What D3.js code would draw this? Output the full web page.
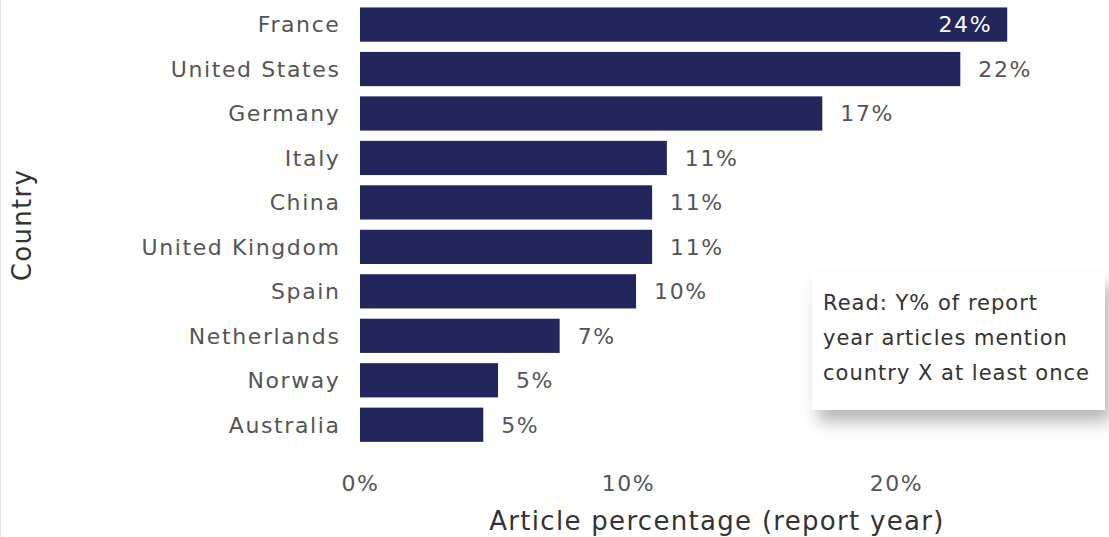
<!DOCTYPE html>
<html><head><meta charset="utf-8">
<script src="https://cdn.jsdelivr.net/npm/d3@7"></script>
<style>
body{margin:0;background:#fff;}
svg{display:block;font-family:"DejaVu Sans",Verdana,sans-serif;}
</style></head><body>
<svg id="c" width="1109" height="537"></svg>
<script>
const countries = ["France","United States","Germany","Italy","China","United Kingdom","Spain","Netherlands","Norway","Australia"];
const values = [24.15, 22.4, 17.25, 11.45, 10.9, 10.9, 10.3, 7.45, 5.15, 4.6];
const xTicks = [0, 10, 20];
const noteLines = ["Read: Y% of report","year articles mention","country X at least once"];

const svg = d3.select("#c");
const x = d3.scaleLinear().domain([0, 10]).range([360, 628]);
const y = d3.scaleBand().domain(countries).range([3, 446.3]).paddingInner(0.23).paddingOuter(0.1);

svg.append("line").attr("x1",0.5).attr("x2",0.5).attr("y1",0).attr("y2",537).attr("stroke","#e4e4e4");

svg.selectAll("rect.bar").data(countries).join("rect")
  .attr("class","bar")
  .attr("x", x(0)).attr("y", d=>y(d))
  .attr("width", (d,i)=>x(values[i])-x(0)).attr("height", y.bandwidth())
  .attr("fill","#23265c");

const fs = 22, ls = 1.6;
svg.selectAll("text.lab").data(countries).join("text")
  .attr("class","lab")
  .attr("x", 340.5).attr("y", d=>y(d)+y.bandwidth()/2)
  .attr("dy","0.36em").attr("text-anchor","end")
  .attr("font-size",fs).attr("letter-spacing",ls).attr("fill","#555")
  .text(d=>d);

svg.selectAll("text.val").data(countries).join("text")
  .attr("class","val")
  .attr("x", (d,i)=> i===0 ? x(values[i])-15 : x(values[i])+18)
  .attr("y", d=>y(d)+y.bandwidth()/2)
  .attr("dy","0.36em")
  .attr("text-anchor",(d,i)=> i===0 ? "end" : "start")
  .attr("font-size",fs).attr("letter-spacing",ls)
  .attr("fill",(d,i)=> i===0 ? "#fff" : "#555")
  .text((d,i)=> Math.round(values[i]) + "%");

const xAxis = svg.append("g").attr("transform","translate(0,446)")
  .call(d3.axisBottom(x).tickValues(xTicks).tickFormat(d=>d+"%").tickSize(0).tickPadding(29));
xAxis.select(".domain").remove();
xAxis.selectAll("text").attr("font-size",fs).attr("letter-spacing",ls).attr("fill","#555").attr("font-family","DejaVu Sans, Verdana, sans-serif");

svg.append("text").attr("x",717).attr("y",521).attr("dy","0.36em").attr("text-anchor","middle")
  .attr("font-size",26).attr("letter-spacing",1.3).attr("fill","#333").text("Article percentage (report year)");
svg.append("text").attr("transform","translate(22,225) rotate(-90)").attr("dy","0.36em").attr("text-anchor","middle")
  .attr("font-size",26).attr("letter-spacing",1.3).attr("fill","#333").text("Country");

const defs = svg.append("defs");
const f = defs.append("filter").attr("id","sh").attr("x","-20%").attr("y","-20%").attr("width","150%").attr("height","160%");
f.append("feDropShadow").attr("dx",6).attr("dy",12).attr("stdDeviation",8).attr("flood-color","#000").attr("flood-opacity",0.28);
svg.append("rect").attr("x",812).attr("y",272).attr("width",293).attr("height",138).attr("fill","#fff").attr("filter","url(#sh)");
svg.selectAll("text.note").data(noteLines).join("text")
  .attr("class","note").attr("x",823).attr("y",(d,i)=>302+i*35).attr("dy","0.36em")
  .attr("font-size",21).attr("letter-spacing",1).attr("fill","#333").text(d=>d);
</script>
</body></html>
